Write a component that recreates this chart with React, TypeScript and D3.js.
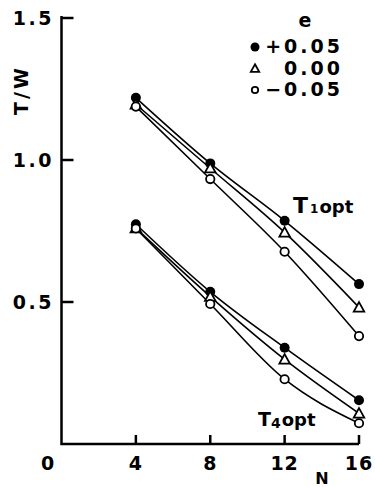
import React from "react"
import * as d3 from "d3"

// N values on the x axis
const nValues = [4, 8, 12, 16]

// T1opt curves, one per e
const t1Plus = [1.219, 0.988, 0.786, 0.563]
const t1Zero = [1.196, 0.971, 0.745, 0.481]
const t1Minus = [1.188, 0.933, 0.677, 0.38]

// T4opt curves, one per e
const t4Plus = [0.774, 0.536, 0.339, 0.154]
const t4Zero = [0.76, 0.519, 0.298, 0.108]
const t4Minus = [0.759, 0.493, 0.228, 0.073]

const eLabels = ["+0.05", "0.00", "\u22120.05"]
const eMarkers = ["dot", "triangle", "circle"]

const xTicks = [4, 8, 12, 16]
const yTicks = [0.5, 1.0, 1.5]
const yTickLabels = ["0.5", "1.0", "1.5"]

const font = "'DejaVu Sans', sans-serif"

function Marker({ kind, x, y, r }: { kind: string; x: number; y: number; r: number }) {
    if (kind === "dot") return <circle cx={x} cy={y} r={r} fill="#000" />
    if (kind === "circle")
        return <circle cx={x} cy={y} r={r - 0.8} fill="#fff" stroke="#000" strokeWidth={1.8} />
    const s = r * 1.05
    const pts = [
        [x, y - s],
        [x + s, y + s * 0.8],
        [x - s, y + s * 0.8],
    ]
    return (
        <polygon
            points={pts.map((p) => p.join(",")).join(" ")}
            fill="#fff"
            stroke="#000"
            strokeWidth={1.8}
            strokeLinejoin="miter"
        />
    )
}

export default function App() {
    const width = 375
    const height = 487

    const x = d3.scaleLinear().domain([0, 16]).range([61.5, 359])
    const y = d3.scaleLinear().domain([0, 1.5]).range([444, 18])

    const line = d3
        .line<number>()
        .x((_, i) => x(nValues[i]))
        .y((d) => y(d))
        .curve(d3.curveMonotoneX)

    const groups = [
        [t1Plus, t1Zero, t1Minus],
        [t4Plus, t4Zero, t4Minus],
    ]

    return (
        <svg
            width={width}
            height={height}
            style={{ position: "absolute", left: 0, top: 0, background: "#fff" }}
            fontFamily={font}
        >
            {/* axes */}
            <path
                d={`M${x(0)},${y(1.5) - 2} V${y(0)} H${x(16)}`}
                fill="none"
                stroke="#000"
                strokeWidth={2.5}
            />
            {yTicks.map((t, i) => (
                <g key={t}>
                    <line x1={x(0)} x2={x(0) + 12} y1={y(t)} y2={y(t)} stroke="#000" strokeWidth={2.5} />
                    <text
                        x={54}
                        y={y(t)}
                        dy="0.36em"
                        textAnchor="end"
                        fontSize={19}
                        fontWeight="bold"
                        letterSpacing={2.5}
                    >
                        {yTickLabels[i]}
                    </text>
                </g>
            ))}
            {xTicks.map((t) => (
                <g key={t}>
                    <line x1={x(t)} x2={x(t)} y1={y(0)} y2={y(0) - 9} stroke="#000" strokeWidth={2.5} />
                    <text
                        x={x(t)}
                        y={470}
                        textAnchor="middle"
                        fontSize={19}
                        fontWeight="bold"
                        letterSpacing={1}
                    >
                        {t}
                    </text>
                </g>
            ))}
            <text x={x(0) - 14} y={470} textAnchor="middle" fontSize={19} fontWeight="bold">
                0
            </text>
            <text x={322} y={484} textAnchor="middle" fontSize={16} fontWeight="bold">
                N
            </text>
            <text
                transform={`translate(28,90) rotate(-90)`}
                textAnchor="middle"
                fontSize={19}
                fontWeight="bold"
                letterSpacing={3}
            >
                T/W
            </text>

            {/* curves */}
            {groups.map((g, gi) =>
                g.map((vals, si) => (
                    <path
                        key={`${gi}-${si}`}
                        d={line(vals) ?? ""}
                        fill="none"
                        stroke="#000"
                        strokeWidth={1.6}
                    />
                ))
            )}
            {groups.map((g, gi) =>
                g.map((vals, si) =>
                    vals.map((v, i) => (
                        <Marker
                            key={`${gi}-${si}-${i}`}
                            kind={eMarkers[si]}
                            x={x(nValues[i])}
                            y={y(v)}
                            r={5}
                        />
                    ))
                )
            )}

            {/* curve labels */}
            <text x={293} y={213} fontWeight="bold">
                <tspan fontSize={22}>T</tspan>
                <tspan fontSize={12} dx={2}>1</tspan>
                <tspan fontSize={18} dx={1}>opt</tspan>
            </text>
            <text x={258} y={426} fontWeight="bold">
                <tspan fontSize={19}>T</tspan>
                <tspan fontSize={14} dy={2}>4</tspan>
                <tspan fontSize={18} dy={-2} dx={1}>opt</tspan>
            </text>

            {/* legend */}
            <text x={305} y={27} textAnchor="middle" fontSize={19} fontWeight="bold">
                e
            </text>
            {eLabels.map((lab, i) => (
                <g key={lab}>
                    <Marker kind={eMarkers[i]} x={255} y={47 + i * 21.5} r={i === 0 ? 4.5 : 4} />
                    <text
                        x={343}
                        y={53 + i * 21.5}
                        textAnchor="end"
                        fontSize={19}
                        fontWeight="bold"
                        letterSpacing={3}
                    >
                        {lab}
                    </text>
                </g>
            ))}
        </svg>
    )
}
